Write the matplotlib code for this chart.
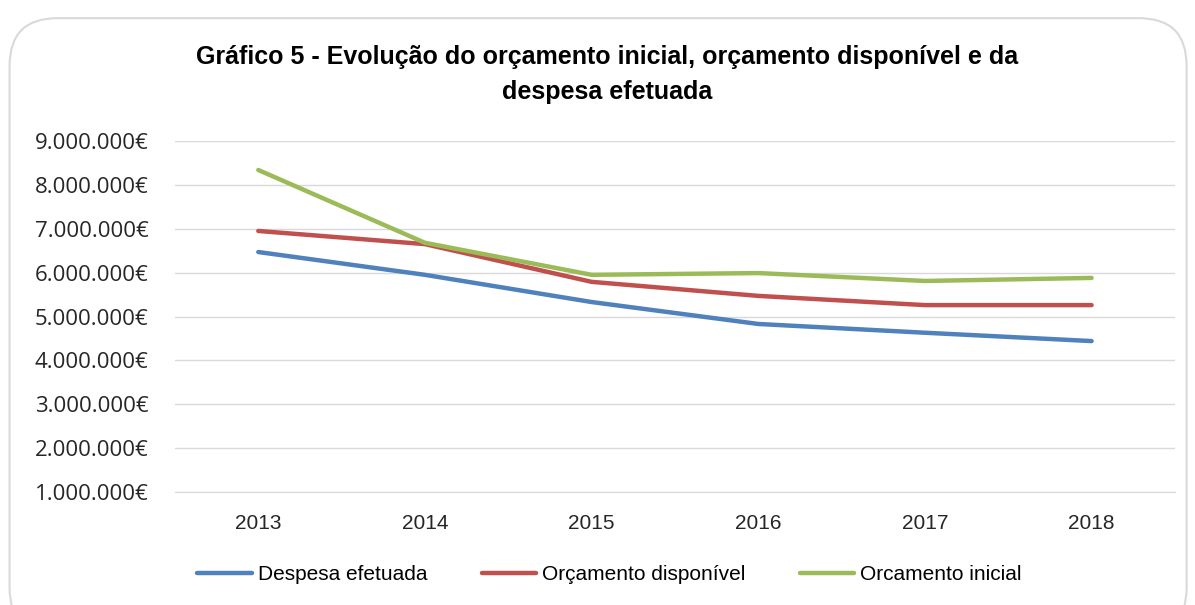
import matplotlib.pyplot as plt
from matplotlib.patches import FancyBboxPatch
from matplotlib.ticker import FuncFormatter

years = ['2013', '2014', '2015', '2016', '2017', '2018']
despesa = [6470000, 5950000, 5330000, 4830000, 4630000, 4440000]
disponivel = [6950000, 6650000, 5790000, 5470000, 5260000, 5260000]
inicial = [8340000, 6680000, 5950000, 5990000, 5810000, 5880000]

series_names = ['Despesa efetuada', 'Orçamento disponível', 'Orcamento inicial']
colors = ['#4F81BD', '#C0504D', '#9BBB59']

font = ['Liberation Sans Narrow', 'Liberation Sans', 'DejaVu Sans']
plt.rcParams['font.family'] = font

fig = plt.figure(figsize=(11.95, 6.05), dpi=100)
fig.patch.set_facecolor('white')

# rounded chart frame, kept behind the axes
frame = FancyBboxPatch((0.008, -0.05), 0.985, 1.02, boxstyle='round,pad=0,rounding_size=0.04',
                       transform=fig.transFigure, facecolor='white', edgecolor='#D9D9D9',
                       linewidth=1.5, mutation_aspect=1195 / 605, zorder=-10)
fig.patches.append(frame)

ax = fig.add_axes([0.1464, 0.1868, 0.8368, 0.5801])
ax.set_facecolor('none')
x = range(len(years))
for vals, name, c in zip([despesa, disponivel, inicial], series_names, colors):
    ax.plot(x, vals, color=c, lw=3.2, label=name, solid_capstyle='round', solid_joinstyle='round')

ax.set_xlim(-0.5, len(years) - 0.5)
ax.set_ylim(1000000, 9000000)
ax.set_yticks(range(1000000, 9000001, 1000000))
ax.yaxis.set_major_formatter(FuncFormatter(lambda v, p: f'{int(v):,}€'.replace(',', '.')))
ax.set_xticks(list(x))
ax.set_xticklabels(years)
ax.grid(axis='y', color='#D9D9D9', lw=1)
ax.set_axisbelow(True)
for s in ['top', 'right', 'left']:
    ax.spines[s].set_visible(False)
ax.spines['bottom'].set_color('#D9D9D9')
ax.tick_params(axis='both', length=0, labelsize=15, colors='#262626')
ax.tick_params(axis='y', pad=19)
ax.tick_params(axis='x', pad=16)
for lbl in ax.get_yticklabels():
    lbl.set_family(['Open Sans', 'DejaVu Sans'])
    lbl.set_fontsize(16)

fig.text(0.508, 0.877, 'Gráfico 5 - Evolução do orçamento inicial, orçamento disponível e da\ndespesa efetuada',
         ha='center', va='center', fontsize=18, fontweight='bold', color='black', linespacing=1.55)

fig.legend(loc='center', bbox_to_anchor=(0.51, 0.05), ncol=3, frameon=False, fontsize=15,
           handlelength=2.6, handletextpad=0.3, columnspacing=2.6)

fig.savefig('out.png', dpi=100)
